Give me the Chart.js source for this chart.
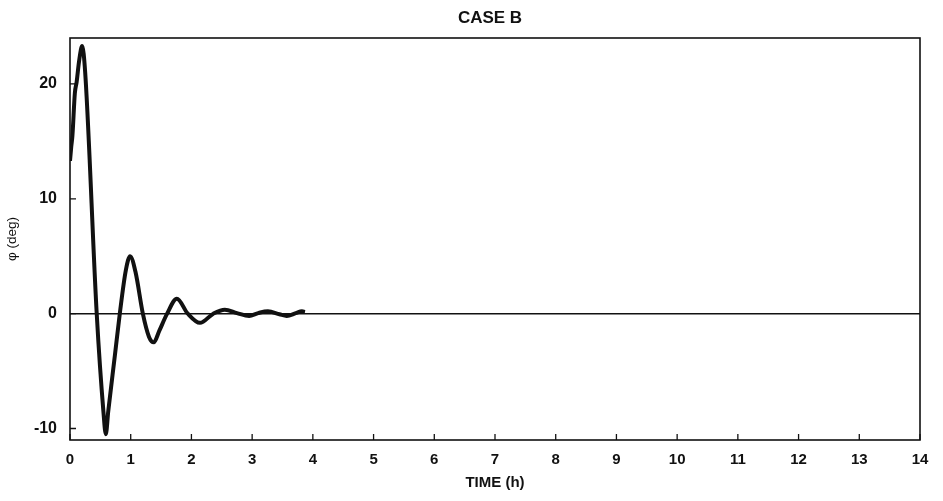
<!DOCTYPE html>
<html>
<head>
<meta charset="utf-8">
<script src="https://cdn.jsdelivr.net/npm/chart.js@4/dist/chart.umd.min.js"></script>
<style>
  html, body { margin: 0; padding: 0; background: #fff; }
  #wrap { width: 943px; height: 501px; }
</style>
</head>
<body>
<div id="wrap"><canvas id="chart"></canvas></div>
<script>
// roll angle response
const timeH = [0, 0.02, 0.04, 0.08, 0.11, 0.15, 0.2, 0.25, 0.44, 0.55, 0.59, 0.63, 0.74, 0.82, 0.92, 0.99, 1.08, 1.2, 1.3, 1.38, 1.47, 1.6, 1.76, 1.94, 2.14, 2.36, 2.55, 2.75, 2.95, 3.1, 3.26, 3.45, 3.57, 3.72, 3.82, 3.87];
const phiDeg = [13.3, 14.5, 15.5, 19.2, 20.2, 22.0, 23.3, 21.0, 0, -8.5, -10.5, -8.5, -3.6, 0, 3.8, 5.0, 3.6, 0, -2.0, -2.5, -1.5, 0, 1.3, 0, -0.8, 0, 0.35, 0.05, -0.2, 0.05, 0.2, -0.05, -0.2, 0.05, 0.2, 0.15];
const zeroLine = [[0, 0], [14, 0]];
const xTicks = [0, 1, 2, 3, 4, 5, 6, 7, 8, 9, 10, 11, 12, 13, 14];
const yTicks = [-10, 0, 10, 20];
const chartTitle = 'CASE B';

const ink = '#111';

// frame, inward tick marks and the title over the plot
const framePlugin = {
  id: 'frame',
  afterDraw(chart) {
    const { ctx, chartArea: a, scales } = chart;
    ctx.save();
    ctx.strokeStyle = ink;
    ctx.lineWidth = 1.6;
    ctx.strokeRect(a.left, a.top, a.right - a.left, a.bottom - a.top);
    ctx.lineWidth = 1.3;
    ctx.beginPath();
    xTicks.forEach(v => {
      const px = scales.x.getPixelForValue(v);
      ctx.moveTo(px, a.bottom);
      ctx.lineTo(px, a.bottom - 6);
    });
    yTicks.forEach(v => {
      const py = scales.y.getPixelForValue(v);
      ctx.moveTo(a.left, py);
      ctx.lineTo(a.left + 6, py);
    });
    ctx.stroke();

    ctx.fillStyle = ink;
    ctx.font = 'bold 17px "Liberation Sans"';
    ctx.textAlign = 'center';
    ctx.textBaseline = 'middle';
    ctx.fillText(chartTitle, (a.left + a.right) / 2 - 5, 18);
    ctx.restore();
  }
};

new Chart(document.getElementById('chart'), {
  type: 'line',
  data: {
    datasets: [
      {
        data: zeroLine.map(p => ({ x: p[0], y: p[1] })),
        borderColor: ink,
        borderWidth: 1.5,
        pointRadius: 0,
        tension: 0
      },
      {
        data: timeH.map((t, i) => ({ x: t, y: phiDeg[i] })),
        borderColor: ink,
        borderWidth: 4,
        pointRadius: 0,
        cubicInterpolationMode: 'monotone'
      }
    ]
  },
  options: {
    responsive: true,
    maintainAspectRatio: false,
    animation: false,
    layout: { padding: { left: 0, right: 23, top: 38, bottom: 0 } },
    plugins: {
      legend: { display: false },
      tooltip: { enabled: false },
      title: { display: false }
    },
    scales: {
      x: {
        type: 'linear',
        min: 0,
        max: 14,
        afterBuildTicks: s => { s.ticks = xTicks.map(v => ({ value: v })); },
        afterFit: s => { s.height = 61; },
        grid: { display: false, drawTicks: false },
        border: { display: false },
        ticks: {
          color: ink,
          padding: 11,
          font: { family: 'Liberation Sans', size: 15, weight: 'bold' }
        },
        title: {
          display: true,
          text: 'TIME (h)',
          color: ink,
          font: { family: 'Liberation Sans', size: 15, weight: 'bold' },
          padding: { top: 0, bottom: 9 }
        }
      },
      y: {
        min: -11,
        max: 24,
        afterBuildTicks: s => { s.ticks = yTicks.map(v => ({ value: v })); },
        afterFit: s => { s.width = 70; },
        grid: { display: false, drawTicks: false },
        border: { display: false },
        ticks: {
          color: ink,
          padding: 13,
          font: { family: 'Liberation Sans', size: 16, weight: 'bold' }
        },
        title: {
          display: true,
          text: 'φ (deg)',
          color: ink,
          font: { family: 'Liberation Sans', size: 13.5 },
          padding: { top: 4, bottom: 0 }
        }
      }
    }
  },
  plugins: [framePlugin]
});
</script>
</body>
</html>
